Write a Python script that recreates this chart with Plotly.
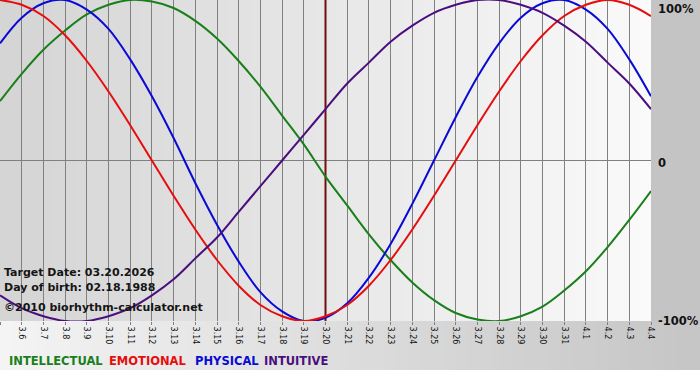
import plotly.graph_objects as go

days = ["3.5", "3.6", "3.7", "3.8", "3.9", "3.10", "3.11", "3.12", "3.13", "3.14",
        "3.15", "3.16", "3.17", "3.18", "3.19", "3.20", "3.21", "3.22", "3.23", "3.24",
        "3.25", "3.26", "3.27", "3.28", "3.29", "3.30", "3.31", "4.1", "4.2", "4.3", "4.4"]

intellectual = [0.37, 0.54, 0.69, 0.81, 0.91, 0.97, 1.00, 0.99, 0.95, 0.87, 0.76, 0.62, 0.46,
                0.28, 0.10, -0.10, -0.28, -0.46, -0.62, -0.76, -0.87, -0.95, -0.99, -1.00,
                -0.97, -0.91, -0.81, -0.69, -0.54, -0.37, -0.19]
emotional = [1.00, 0.97, 0.90, 0.78, 0.62, 0.43, 0.22, 0.00, -0.22, -0.43, -0.62, -0.78, -0.90,
             -0.97, -1.00, -0.97, -0.90, -0.78, -0.62, -0.43, -0.22, 0.00, 0.22, 0.43, 0.62,
             0.78, 0.90, 0.97, 1.00, 0.97, 0.90]
physical = [0.73, 0.89, 0.98, 1.00, 0.94, 0.82, 0.63, 0.40, 0.14, -0.14, -0.40, -0.63, -0.82,
            -0.94, -1.00, -0.98, -0.89, -0.73, -0.52, -0.27, 0.00, 0.27, 0.52, 0.73, 0.89,
            0.98, 1.00, 0.94, 0.82, 0.63, 0.40]
intuitive = [-0.84, -0.92, -0.97, -1.00, -1.00, -0.97, -0.92, -0.84, -0.74, -0.61, -0.48, -0.32,
             -0.16, 0.00, 0.16, 0.32, 0.48, 0.61, 0.74, 0.84, 0.92, 0.97, 1.00, 1.00, 0.97,
             0.92, 0.84, 0.74, 0.61, 0.48, 0.32]

target_day = "3.20"
target_text = "Target Date: 03.20.2026"
birth_text = "Day of birth: 02.18.1988"
copy_text = "\u00a92010 biorhythm-calculator.net"

series = [
    ("INTELLECTUAL", intellectual, "#1a7f1a"),
    ("PHYSICAL", physical, "#0a0ad6"),
    ("EMOTIONAL", emotional, "#e60d0d"),
    ("INTUITIVE", intuitive, "#4a0e7e"),
]

xs = list(range(len(days)))
tx = days.index(target_day)
fig = go.Figure()
# target line (drawn under the curves)
fig.add_trace(go.Scatter(x=[tx, tx], y=[-1.2, 1.2], mode="lines",
                         line=dict(color="#701010", width=2), hoverinfo="skip"))
for name, vals, col in series:
    fig.add_trace(go.Scatter(x=xs, y=vals, mode="lines", name=name,
                             line=dict(color=col, width=2, shape="spline", smoothing=1.0),
                             hoverinfo="skip"))

W, H = 700, 380
L, R, T, B = 0, 49, 0, 59
pw, ph = W - L - R, H - T - B

shapes = []
# plot-area gradient (dark left -> light right)
n = 60
for i in range(n):
    f = i / (n - 1)
    c = int(213 + f * (250 - 213))
    shapes.append(dict(type="rect", xref="paper", yref="paper", x0=i / n, x1=(i + 1) / n + 0.002,
                       y0=0, y1=1, fillcolor=f"rgb({c},{c},{c})", line_width=0, layer="below"))
# right margin
shapes.append(dict(type="rect", xref="paper", yref="paper", x0=1, x1=W / pw, y0=0, y1=1,
                   fillcolor="#c4c4c4", line_width=0, layer="below"))
# bottom strip gradient (light left -> grey right)
ybot = -(370 - ph) / ph
for i in range(n):
    f = i / (n - 1)
    c = int(244 + f * (198 - 244))
    shapes.append(dict(type="rect", xref="paper", yref="paper", x0=i / n * W / pw,
                       x1=(i + 1) / n * W / pw + 0.002, y0=ybot, y1=0,
                       fillcolor=f"rgb({c},{c},{c})", line_width=0, layer="below"))

ann = []
txt_font = dict(family="DejaVu Sans", size=11, color="#151515")
for ytxt, t in [(272, target_text), (287, birth_text), (307, copy_text)]:
    ann.append(dict(text="<b>" + t + "</b>", xref="paper", yref="paper", x=2 / pw,
                    y=1 - ytxt / ph, xanchor="left", yanchor="middle", showarrow=False,
                    font=txt_font))
lab_font = dict(family="DejaVu Sans", size=11.5, color="#111111")
for yv, t, ya, ys in [(1, "100%", "top", 0), (0, "0", "middle", -2), (-1, "-100%", "middle", 0)]:
    ann.append(dict(text="<b>" + t + "</b>", xref="paper", yref="y", x=1, y=yv, xshift=5,
                    yshift=ys, xanchor="left", yanchor=ya, showarrow=False, font=lab_font))
leg_x = [7, 107, 193, 262]
leg_order = ["INTELLECTUAL", "EMOTIONAL", "PHYSICAL", "INTUITIVE"]
colmap = {s[0]: s[2] for s in series}
for lx, nm in zip(leg_x, leg_order):
    ann.append(dict(text="<b>" + nm + "</b>", xref="paper", yref="paper", x=lx / pw,
                    y=1 - 361 / ph, xanchor="left", yanchor="middle", showarrow=False,
                    font=dict(family="DejaVu Sans", size=11.5, color=colmap[nm])))

fig.update_layout(
    width=W, height=H, margin=dict(l=L, r=R, t=T, b=B, pad=0),
    paper_bgcolor="white", plot_bgcolor="rgba(0,0,0,0)",
    showlegend=False, shapes=shapes, annotations=ann,
    xaxis=dict(range=[0, len(days) - 1], tickvals=xs, ticktext=days, tickangle=90,
               showgrid=True, gridcolor="#808080", gridwidth=1, zeroline=False,
               ticks="outside", ticklen=3, tickcolor="#808080",
               tickfont=dict(family="DejaVu Sans", size=8, color="#111111"),
               showline=False, fixedrange=True),
    yaxis=dict(range=[-1, 1], tickvals=[-1, 0, 1], showticklabels=False, showgrid=True,
               gridcolor="#808080", gridwidth=1, zeroline=False, showline=False,
               fixedrange=True),
)
fig.write_html("out.html", config={"displayModeBar": False},
               post_script="document.body.style.margin='0';document.body.style.padding='0';")
